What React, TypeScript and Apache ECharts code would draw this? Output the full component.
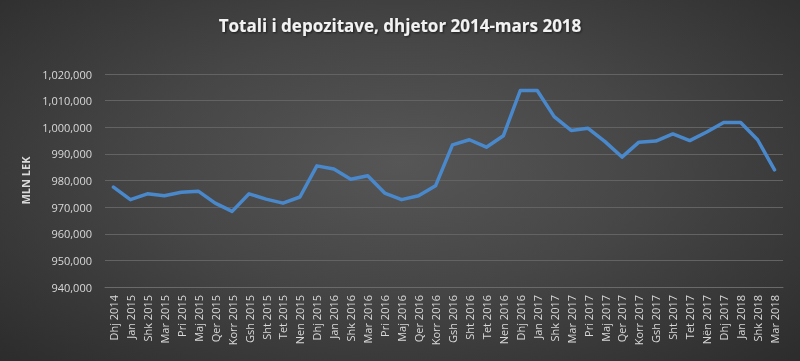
import React, { useEffect, useRef } from "react";
import * as echarts from "echarts";

const categories = [
  "Dhj 2014", "Jan 2015", "Shk 2015", "Mar 2015", "Pri 2015", "Maj 2015", "Qer 2015", "Korr 2015",
  "Gsh 2015", "Sht 2015", "Tet 2015", "Nen 2015", "Dhj 2015", "Jan 2016", "Shk 2016", "Mar 2016",
  "Pri 2016", "Maj 2016", "Qer 2016", "Korr 2016", "Gsh 2016", "Sht 2016", "Tet 2016", "Nen 2016",
  "Dhj 2016", "Jan 2017", "Shk 2017", "Mar 2017", "Pri 2017", "Maj 2017", "Qer 2017", "Korr 2017",
  "Gsh 2017", "Sht 2017", "Tet 2017", "Nën 2017", "Dhj 2017", "Jan 2018", "Shk 2018", "Mar 2018",
];

const deposits = [
  977500, 972800, 975000, 974300, 975600, 976000, 971500, 968400,
  975000, 973000, 971500, 973800, 985500, 984300, 980500, 981800,
  975300, 972800, 974300, 978000, 993400, 995300, 992500, 996800,
  1013800, 1013800, 1004000, 998800, 999600, 994600, 988800, 994400,
  994800, 997500, 995000, 998200, 1001800, 1001800, 995300, 984000,
];

const yMin = 940000;
const yMax = 1020000;
const yStep = 10000;

const title = "Totali i depozitave, dhjetor 2014-mars 2018";
const yName = "MLN LEK";

const FONT = "'Open Sans', 'Liberation Sans', sans-serif";

export default function App() {
  const ref = useRef<HTMLDivElement>(null);
  useEffect(() => {
    if (!ref.current) return;
    const chart = echarts.init(ref.current, null, { renderer: "svg" });
    chart.setOption({
      animation: false,
      backgroundColor: "transparent",
      title: {
        text: title,
        left: "center",
        top: 12,
        textStyle: {
          color: "#f2f2f2",
          fontSize: 17,
          fontWeight: "bold",
          fontFamily: FONT,
          textShadowColor: "rgba(0,0,0,0.6)",
          textShadowBlur: 2,
          textShadowOffsetX: 1,
          textShadowOffsetY: 1,
        },
      },
      grid: { left: 105, right: 17, top: 74, bottom: 74 },
      xAxis: {
        type: "category",
        data: categories,
        boundaryGap: true,
        axisLine: { show: true, lineStyle: { color: "#6a6a6a", width: 1 } },
        axisTick: { show: false },
        axisLabel: {
          rotate: 90,
          interval: 0,
          color: "#d9d9d9",
          fontSize: 11,
          fontFamily: FONT,
          margin: 8,
        },
      },
      yAxis: {
        type: "value",
        min: yMin,
        max: yMax,
        interval: yStep,
        name: yName,
        nameLocation: "middle",
        nameGap: 70,
        nameRotate: 90,
        nameTextStyle: { color: "#d9d9d9", fontSize: 11, fontWeight: "bold", fontFamily: FONT },
        axisLine: { show: false },
        axisTick: { show: false },
        axisLabel: {
          color: "#d9d9d9",
          fontSize: 11,
          fontFamily: FONT,
          margin: 13,
          formatter: (v: number) => v.toLocaleString("en-US"),
        },
        splitLine: { lineStyle: { color: "#636363", width: 1 } },
      },
      series: [
        {
          type: "line",
          data: deposits,
          symbol: "none",
          lineStyle: { color: "#4a88cc", width: 3.5, cap: "round", join: "round" },
        },
      ],
    });
    return () => chart.dispose();
  }, []);
  return (
    <div
      style={{
        position: "fixed",
        left: 0,
        top: 0,
        width: 800,
        height: 361,
        background: "radial-gradient(ellipse at 50% 45%, #565656 0%, #464646 45%, #2c2c2c 100%)",
      }}
    >
      <div ref={ref} style={{ width: 800, height: 361 }} />
    </div>
  );
}
